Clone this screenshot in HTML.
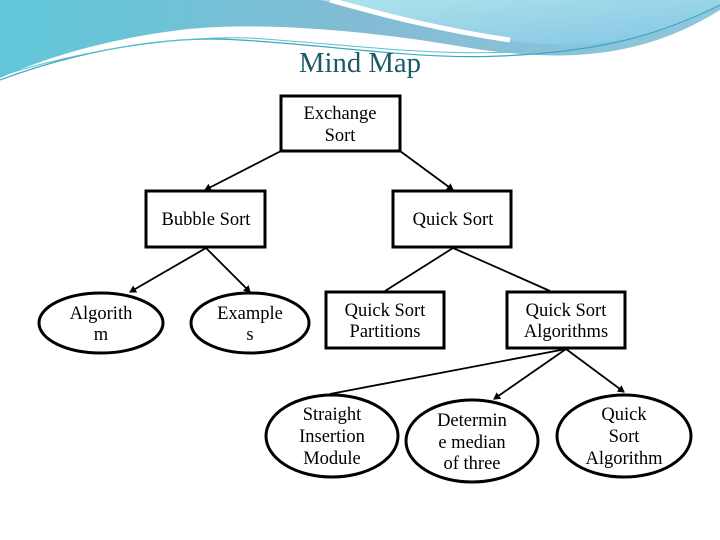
<!DOCTYPE html>
<html><head><meta charset="utf-8"><style>
html,body{margin:0;padding:0;background:#fff;}
svg{display:block;}
text{font-family:"Liberation Serif",serif;font-size:18.5px;fill:#000;text-anchor:middle;}
</style></head><body>
<svg width="720" height="540" viewBox="0 0 720 540" xmlns="http://www.w3.org/2000/svg">
<defs>
<linearGradient id="g1" x1="0" y1="0" x2="1" y2="0">
<stop offset="0" stop-color="#5fc7d8"/><stop offset="0.5" stop-color="#82bcd4"/><stop offset="1" stop-color="#8fc6dc"/>
</linearGradient>
<linearGradient id="g2" x1="0" y1="0" x2="1" y2="1">
<stop offset="0" stop-color="#aee3ea"/><stop offset="1" stop-color="#84c6e6"/>
</linearGradient>
<marker id="a" markerWidth="8" markerHeight="8" refX="6" refY="4" orient="auto" markerUnits="userSpaceOnUse">
<path d="M0,0 L7,4 L0,8 z" fill="#000"/></marker>
</defs>
<path d="M0,0 L720,0 L720,10 C640,60 560,62 470,48 C380,32 260,20 180,30 C100,40 40,60 0,78 Z" fill="url(#g1)"/>
<path d="M320,0 L720,0 L720,5 C660,40 590,50 520,42 C440,32 380,12 320,0 Z" fill="url(#g2)"/>
<path d="M330,0 C380,14 440,30 510,40" stroke="#fff" stroke-width="5" fill="none"/>
<path d="M0,80 C80,50 170,35 240,40 C330,45 420,60 500,56 C600,52 660,35 720,5" stroke="#3aa8c0" stroke-width="1.2" fill="none"/>
<path d="M0,76 C90,48 180,36 250,38 C340,44 430,56 510,52" stroke="#5cc0d0" stroke-width="1" fill="none"/>
<text x="360" y="72" style="font-size:28px;fill:#1b5a68" textLength="122" lengthAdjust="spacingAndGlyphs">Mind Map</text>
<g stroke="#000" stroke-width="3" fill="#fff">
<rect x="281" y="96" width="119" height="55"/>
<rect x="146" y="191" width="119" height="56"/>
<rect x="393" y="191" width="118" height="56"/>
<rect x="326" y="292" width="118" height="56"/>
<rect x="507" y="292" width="118" height="56"/>
<ellipse cx="101" cy="323" rx="62" ry="30"/>
<ellipse cx="250" cy="323" rx="59" ry="30"/>
<ellipse cx="332" cy="436" rx="66" ry="41"/>
<ellipse cx="472" cy="441" rx="66" ry="41"/>
<ellipse cx="624" cy="436" rx="67" ry="41"/>
</g>
<g stroke="#000" stroke-width="1.8" fill="none">
<line x1="281" y1="151" x2="205" y2="190" marker-end="url(#a)"/>
<line x1="400" y1="151" x2="453" y2="190" marker-end="url(#a)"/>
<line x1="206" y1="248" x2="130" y2="292" marker-end="url(#a)"/>
<line x1="206" y1="248" x2="250" y2="292" marker-end="url(#a)"/>
<line x1="453" y1="248" x2="385" y2="291"/>
<line x1="453" y1="248" x2="550" y2="291"/>
<line x1="566" y1="349" x2="330" y2="394"/>
<line x1="566" y1="349" x2="494" y2="399" marker-end="url(#a)"/>
<line x1="566" y1="349" x2="624" y2="392" marker-end="url(#a)"/>
</g>
<text x="340" y="119">Exchange</text><text x="340" y="141">Sort</text>
<text x="206" y="225">Bubble Sort</text>
<text x="453" y="225">Quick Sort</text>
<text x="385" y="316">Quick Sort</text><text x="385" y="337">Partitions</text>
<text x="566" y="316">Quick Sort</text><text x="566" y="337">Algorithms</text>
<text x="101" y="319">Algorith</text><text x="101" y="340">m</text>
<text x="250" y="319">Example</text><text x="250" y="340">s</text>
<text x="332" y="420">Straight</text><text x="332" y="442">Insertion</text><text x="332" y="464">Module</text>
<text x="472" y="426">Determin</text><text x="472" y="448">e median</text><text x="472" y="469">of three</text>
<text x="624" y="420">Quick</text><text x="624" y="442">Sort</text><text x="624" y="464">Algorithm</text>
</svg>
</body></html>
